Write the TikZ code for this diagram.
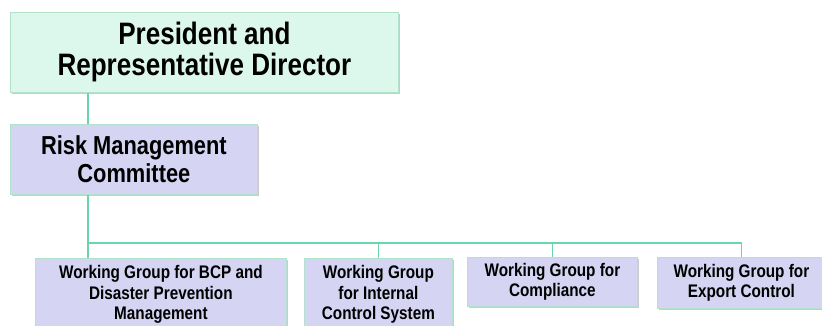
\documentclass[tikz,border=0pt]{standalone}
\usepackage{fontspec}
\newfontfamily\orgfont{Liberation Sans}[FakeStretch=0.84]
\usetikzlibrary{shadows}
\definecolor{mintfill}{HTML}{DCF8EC}
\definecolor{lavfill}{HTML}{D5D4F2}
\definecolor{boxedge}{HTML}{B2E2CC}
\definecolor{linkgreen}{HTML}{6AD6AC}
\begin{document}
\begin{tikzpicture}[x=1pt, y=-1pt,
    box/.style={draw=boxedge, line width=0.8pt, anchor=north west, align=center, inner sep=0pt,
        drop shadow={shadow xshift=1.2pt, shadow yshift=-2pt, fill=black!45, opacity=0.45}},
    topbox/.style={box, fill=mintfill, font=\orgfont\bfseries\fontsize{31}{31}\selectfont},
    midbox/.style={box, fill=lavfill, font=\orgfont\bfseries\fontsize{26}{28}\selectfont},
    wgbox/.style={box, fill=lavfill, font=\orgfont\bfseries\fontsize{18.2}{20.5}\selectfont},
    link/.style={draw=linkgreen, line width=1.2pt}]
 \useasboundingbox (0,0) rectangle (822,325);
 \clip (0,0) rectangle (822,325);
 \fill[white] (0,0) rectangle (822,325);
    % Boxes
 \node[topbox, minimum width=388pt, minimum height=80pt] (president) at (10,12)
    {President and\\Representative Director};
 \node[midbox, minimum width=247pt, minimum height=70pt] (riskcom) at (10,124)
    {Risk Management\\Committee};
 \node[wgbox, minimum width=251pt, minimum height=72pt] (wgbcp) at (35,258)
    {Working Group for BCP and\\Disaster Prevention\\Management};
 \node[wgbox, minimum width=148pt, minimum height=72pt] (wgcontrol) at (304,258)
    {Working Group\\for Internal\\Control System};
 \node[wgbox, minimum width=170pt, minimum height=49pt] (wgcomply) at (467,257)
    {Working Group for\\Compliance};
 \node[wgbox, minimum width=168pt, minimum height=51pt] (wgexport) at (657,257)
    {Working Group for\\Export Control};
    % Connectors
 \coordinate (bus) at (88,243);
 \draw[link] (president.south -| bus) -- (riskcom.north -| bus);
 \draw[link] (riskcom.south -| bus) -- (bus |- wgbcp.north);
 \draw[link] (bus) -| (wgcontrol.north);
 \draw[link] (bus) -| (wgcomply.north);
 \draw[link] (bus) -| (wgexport.north);
\end{tikzpicture}
\end{document}
